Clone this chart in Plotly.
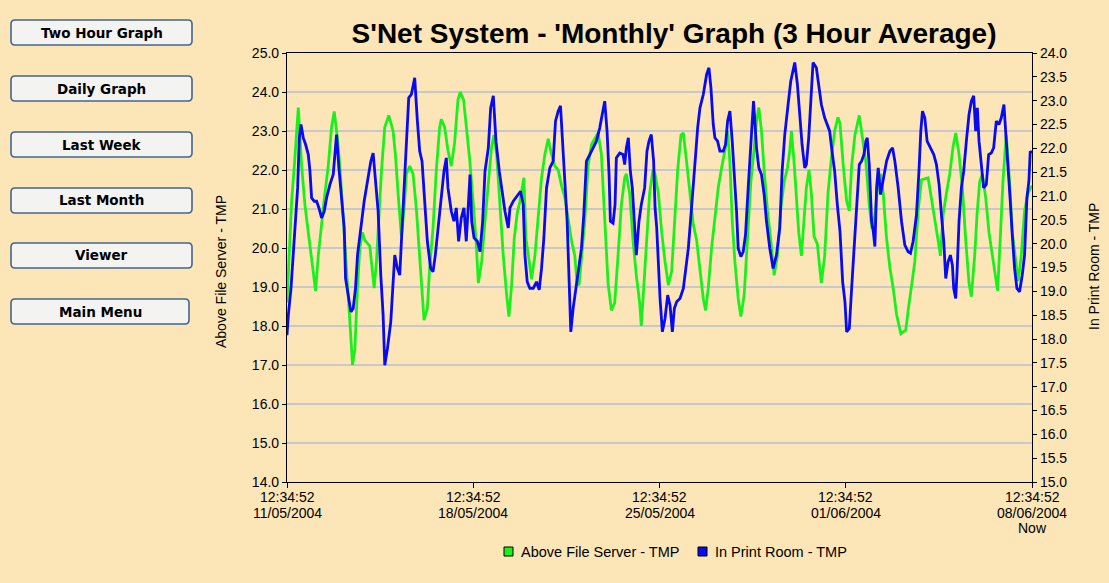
import plotly.graph_objects as go

# ---------------- data ----------------
tick_hours = [0, 168, 336, 504, 672]
tick_times = ["12:34:52"] * 5
tick_dates = ["11/05/2004", "18/05/2004", "25/05/2004", "01/06/2004", "08/06/2004"]
now_label = "Now"

green_name = "Above File Server - TMP"
blue_name = "In Print Room - TMP"

green_hours = [0, 1.8, 4.2, 6.6, 8.7, 10.2, 13.2, 16.2, 19.2, 22.2, 25.8, 28.2, 31.2, 34.2, 37.2, 40.2, 42.6,
               45.6, 47.7, 49.8, 52.2, 55.2, 57.3, 59.1, 61.2, 63.6, 65.7, 68.1, 70.2, 74.7, 76.8, 78.6, 80.7,
               82.8, 85.2, 88.2, 91.8, 95.7, 97.8, 100.2, 103.2, 105.6, 107.7, 110.7, 113.7, 116.7, 119.7,
               121.8, 123.6, 126.6, 128.7, 131.7, 134.7, 137.7, 139.2, 142.2, 145.2, 148.2, 151.2, 154.2,
               156.3, 159.3, 161.7, 164.7,
               168.1, 170.5, 172.6, 175.6, 178.6, 181.6, 184.6, 186.7, 189.1, 192.1, 195.1, 198.1, 200.2,
               202.6, 205.0, 207.7, 210.1, 213.7, 215.5, 218.5, 220.6, 223.6, 226.6, 229.6, 232.6, 235.6,
               238.6, 241.6, 244.6, 247.6, 250.6, 253.6, 256.6, 259.6, 261.7, 263.5, 265.6, 268.6, 271.6,
               274.6, 277.6, 280.6, 283.6, 286.6, 289.6, 292.6, 295.6, 298.6, 301.6, 304.6, 306.1, 309.1,
               312.1, 315.1, 318.1, 319.6, 321.7, 324.7, 327.1, 330.1,
               332.0, 335.0, 338.0, 341.0, 344.0, 347.0, 350.0, 352.4, 355.4, 357.5, 360.5, 363.5, 366.5,
               369.5, 372.5, 375.5, 377.6, 380.0, 383.0, 386.0, 389.0, 392.0, 395.0, 397.4, 399.5, 401.6,
               404.0, 407.0, 409.4, 412.4, 415.4, 418.4, 421.4, 423.5, 425.6, 428.0, 430.4, 433.4, 436.4,
               439.4, 442.4, 445.4, 448.4, 451.4, 453.5, 455.0, 457.4, 459.5, 461.6, 464.0, 466.4, 468.5,
               470.9, 473.0, 475.4, 478.4, 480.5, 482.0, 485.0, 488.0, 491.0, 494.0, 497.0,
               498.8, 501.8, 504.8, 507.2, 509.3, 512.3, 516.2, 519.2, 522.2, 525.2, 527.6, 530.3, 533.3,
               535.4, 537.8, 540.8, 543.8, 546.8, 549.8, 553.7, 558.2, 560.3, 563.3, 566.3, 569.3, 572.3,
               578.3, 581.3, 584.3, 587.3, 589.4, 591.8, 594.8, 597.8, 600.8, 603.2, 606.2, 609.2, 612.2,
               615.2, 617.3, 620.3, 622.4, 624.8, 627.2, 630.2, 633.2, 636.2, 639.2, 641.0, 643.4, 645.8,
               648.8, 651.8, 654.2, 657.2, 659.6, 662.3, 665.3, 668.3, 672]
green_temp = [18.6, 19.8, 21.2, 22.1, 23.0, 23.6, 22.1, 21.1, 20.4, 19.65, 18.9, 19.8, 20.7, 21.4, 22.1, 23.1, 23.5,
              22.8, 22.1, 21.1, 20.0, 18.8, 17.85, 17.0, 17.4, 19.0, 20.0, 20.4, 20.2, 20.05, 19.4, 18.97, 19.65,
              20.7, 21.97, 23.1, 23.4, 23.0, 22.4, 21.4, 20.3, 21.0, 21.9, 22.1, 21.9, 21.0, 19.8,
              19.0, 18.15, 18.45, 19.5, 20.5, 22.0, 23.1, 23.3, 23.1, 22.5, 22.1, 22.7, 23.8,
              24.0, 23.8, 23.1, 22.3,
              21.1, 20.2, 19.1, 19.65, 20.7, 21.7, 22.6, 22.9, 22.4, 21.1, 19.8, 18.8, 18.24,
              19.05, 20.25, 20.9, 21.2, 21.8, 20.25, 19.65, 19.2, 19.8, 20.85, 21.8, 22.4, 22.8,
              22.4, 22.1, 22.0, 21.6, 21.3, 20.7, 20.2, 19.8, 19.1, 19.05, 19.65, 20.7, 22.1,
              22.65, 22.8, 22.95, 22.4, 20.7, 19.1, 18.4, 18.6, 19.8, 21.1, 21.8, 21.9, 21.4,
              20.2, 19.3, 18.6, 18.0, 19.0, 20.25, 21.4, 22.0,
              21.9, 21.4, 20.4, 19.65, 19.05, 19.4, 20.7, 22.0, 22.9, 22.95, 22.2, 21.4, 20.6,
              20.2, 19.4, 18.7, 18.4, 18.97, 20.0, 20.85, 21.55, 22.05, 22.5, 23.0, 22.2, 20.7,
              19.65, 18.7, 18.24, 18.8, 20.2, 21.7, 22.55, 23.25, 23.6, 23.0, 22.0, 20.95, 20.2,
              19.3, 19.8, 21.0, 21.7, 22.05, 22.5, 23.0, 22.2, 21.2, 20.4, 19.8, 20.7, 21.55,
              22.0, 21.4, 20.3, 20.1, 19.5, 19.1, 19.8, 21.4, 22.3, 23.0, 23.35,
              23.2, 22.1, 21.2, 20.95, 22.1, 22.9, 23.4, 22.8, 22.2, 21.1, 20.5, 20.85, 21.7,
              21.9, 21.4, 20.25, 19.5, 18.97, 18.3, 17.8, 17.9, 18.4, 18.97, 19.65, 20.95, 21.75,
              21.8, 21.3, 20.8, 20.2, 19.8, 20.85, 21.4, 21.9, 22.6, 22.95, 22.4, 21.55, 20.2,
              19.1, 18.75, 19.8, 20.85, 21.7, 21.9, 21.3, 20.4, 19.8, 19.3, 18.9, 20.25, 21.7,
              22.9, 21.7, 20.4, 19.65, 19.15, 19.8, 20.95, 21.4, 21.6]

blue_hours = [0, 1.2, 3.6, 5.7, 7.8, 9.6, 11.1, 12.6, 14.7, 16.8, 19.2, 20.7, 22.2, 24.6, 26.7, 28.8, 31.2,
              33.6, 35.7, 38.7, 41.7, 43.2, 44.7, 46.8, 49.2, 51.6, 52.8, 55.2, 57.6, 59.7, 61.8, 63.6, 66.6,
              69.6, 72.6, 75.6, 77.7, 79.8, 82.2, 84.6, 86.7, 88.2, 90.6, 93.6, 95.7, 97.2, 99.6, 101.7,
              103.8, 105.6, 107.7, 109.8, 112.2, 115.2, 117.6, 119.7, 121.8, 124.2, 126.6, 129.6, 131.7,
              133.8, 136.2, 139.2, 141.6, 143.7, 145.2, 148.2, 150.6, 152.7, 154.8, 157.2, 159.6, 161.7,
              163.8,
              165.1, 166.6, 168.7, 171.7, 174.1, 176.5, 178.6, 181.6, 183.7, 186.1, 188.5, 191.5, 193.6,
              196.6, 199.6, 201.1, 204.1, 207.1, 210.7, 213.1, 214.6, 216.7, 219.1, 222.1, 225.1, 227.5,
              229.6, 231.7, 234.1, 237.1, 240.1, 242.2, 244.6, 246.7, 248.5, 250.6, 252.7, 254.5, 256.0,
              258.1, 260.5, 262.6, 265.6, 267.7, 270.1, 273.1, 276.1, 279.1, 282.1, 284.5, 286.6, 288.7,
              290.5, 291.7, 294.1, 295.9, 297.1, 300.1, 303.1, 304.6, 306.1, 307.9, 309.7, 311.5, 313.6,
              315.1, 317.5, 319.6, 322.6, 324.7, 326.5, 328.6, 330.7,
              332.0, 333.5, 335.0, 336.5, 338.6, 341.0, 343.4, 345.5, 347.6, 349.4, 351.5, 354.5, 357.5,
              359.6, 362.0, 364.4, 366.5, 368.6, 370.4, 372.5, 375.5, 378.5, 380.6, 382.4, 384.5, 386.0,
              388.4, 390.5, 393.5, 395.6, 397.4, 399.5, 401.6, 403.4, 405.5, 407.0, 409.4, 411.5, 413.6,
              416.0, 418.4, 419.6, 420.8, 422.0, 423.5, 425.6, 428.0, 430.4, 432.5, 435.5, 438.5, 441.5,
              444.5, 446.6, 449.0, 452.0, 454.4, 458.0, 460.4, 462.5, 464.6, 467.0, 468.5, 470.6, 472.4,
              474.5, 477.5, 479.6, 482.0, 485.0, 487.4, 489.5, 491.6, 494.0, 496.4,
              498.8, 501.2, 503.3, 504.8, 507.2, 509.3, 511.4, 513.8, 516.2, 518.3, 520.4, 522.2, 523.4,
              525.2, 527.3, 528.8, 530.3, 531.8, 533.3, 535.4, 537.8, 540.8, 543.8, 546.2, 548.3, 551.3,
              554.3, 557.3, 560.3, 562.4, 564.8, 567.8, 570.2, 571.7, 573.2, 575.3, 577.4, 580.4, 583.4,
              585.8, 588.2, 590.3, 592.4, 594.2, 596.3, 598.4, 600.2, 601.4, 603.2, 604.4, 606.2, 608.3,
              610.4, 612.8, 615.2, 617.3, 619.4, 621.2, 622.7, 624.2, 626.3, 628.4, 630.8, 632.9, 635.3,
              637.4, 639.8, 642.2, 644.3, 646.7, 648.8, 650.3, 652.4, 654.2, 656.3, 658.4, 660.8, 663.2,
              665.3, 667.4, 669.2, 670.4, 672]
blue_temp = [18.08, 18.5, 19.06, 19.76, 20.47, 21.17, 22.22, 22.5, 22.22, 22.08, 21.87, 21.52, 20.96, 20.89, 20.89, 20.75, 20.54,
             20.68, 20.96, 21.24, 21.45, 21.8, 22.29, 21.59, 21.03, 20.33, 19.27, 18.92, 18.57, 18.64, 19.06, 19.76, 20.33,
             20.89, 21.31, 21.73, 21.9, 21.31, 20.68, 19.34, 18.5, 17.45, 17.8, 18.36, 19.06, 19.76, 19.48, 19.34,
             20.33, 21.17, 22.22, 23.06, 23.13, 23.48, 22.57, 21.94, 21.73, 20.89, 20.05, 19.48, 19.41,
             19.76, 20.33, 21.03, 21.52, 21.8, 21.17, 20.68, 20.47, 20.75, 20.05, 20.54, 20.75, 20.05,
             21.03,
             21.45, 20.47, 20.12, 20.05, 19.83, 20.47, 21.52, 22.01, 22.85, 23.1, 22.15, 21.52, 21.17,
             20.68, 20.33, 20.75, 20.89, 20.99, 21.1, 20.82, 19.76, 19.2, 19.06, 19.06, 19.2, 19.03,
             19.48, 20.12, 21.17, 21.59, 21.73, 22.57, 22.78, 22.89, 22.22, 21.45, 20.47, 19.2, 18.15,
             18.64, 19.06, 19.48, 19.9, 20.61, 21.73, 21.87, 22.01, 22.15, 22.43, 22.78, 22.99, 22.36,
             21.45, 20.47, 20.43, 20.82, 21.8, 21.9, 21.87, 21.66, 22.01, 22.22, 21.52, 21.17, 20.47,
             19.76, 20.47, 20.82, 21.17, 21.94, 22.15, 22.29, 21.73,
             20.75, 20.33, 19.48, 18.85, 18.15, 18.43, 18.92, 18.71, 18.15, 18.64, 18.78, 18.85, 19.06,
             19.48, 19.9, 20.61, 21.17, 21.87, 22.43, 22.85, 23.13, 23.55, 23.69, 23.27, 22.5, 22.22,
             22.15, 21.94, 21.94, 22.08, 22.57, 22.78, 22.15, 21.52, 20.68, 19.9, 19.73, 19.83, 20.19,
             21.17, 22.22, 22.71, 22.99, 22.57, 22.01, 21.59, 21.45, 21.03, 20.47, 19.9, 19.48, 19.76,
             20.33, 21.52, 22.29, 22.92, 23.41, 23.8, 23.34, 22.71, 22.08, 21.59, 21.66, 22.22, 23.06,
             23.8, 23.69, 23.27, 22.92, 22.64, 22.5, 22.36, 21.94, 21.52, 20.82,
             20.26, 19.2, 18.78, 18.15, 18.22, 19.06, 19.9, 20.82, 21.66, 21.73, 21.87, 22.15, 22.22,
             21.66, 20.47, 20.26, 19.94, 21.17, 21.59, 21.03, 21.38, 21.73, 21.94, 22.01, 21.73, 21.17,
             20.47, 19.97, 19.83, 19.8, 20.05, 20.61, 21.59, 22.36, 22.78, 22.64, 22.15, 22.01, 21.87,
             21.66, 21.24, 20.61, 20.05, 19.27, 19.62, 19.76, 19.55, 19.06, 18.85, 19.41, 20.47, 21.17,
             21.52, 22.15, 22.71, 22.99, 23.1, 22.36, 22.85, 22.15, 21.59, 21.17, 21.24, 21.87, 21.9,
             22.01, 22.57, 22.5, 22.64, 22.92, 22.15, 21.52, 20.89, 20.19, 19.48, 19.06, 18.99, 19.34,
             19.76, 20.96, 21.31, 21.94, 21.9]

buttons = ["Two Hour Graph", "Daily Graph", "Last Week", "Last Month", "Viewer", "Main Menu"]

# ---------------- layout constants ----------------
W, H = 1109, 583
L, R, T, B = 287, 77, 53, 101
PW, PH = W - L - R, H - T - B
BG = "#FCE5B6"
FONT = "Liberation Sans, Arial, sans-serif"
BTN_FONT = "DejaVu Sans, Verdana, sans-serif"
GREEN = "#1CF01C"
BLUE = "#0A0AF0"


def px_x(px):
    return (px - L) / PW


def px_y(py):
    return (H - B - py) / PH


fig = go.Figure()
fig.add_trace(go.Scatter(x=green_hours, y=green_temp, mode="lines", name=green_name,
                         line=dict(color=GREEN, width=2.8), showlegend=False, yaxis="y"))
fig.add_trace(go.Scatter(x=blue_hours, y=blue_temp, mode="lines", name=blue_name,
                         line=dict(color=BLUE, width=2.8), showlegend=False, yaxis="y2"))

shapes = []
annotations = []

# buttons
btn_tops = [20, 76, 132, 188, 243, 299]
for i, (label, top) in enumerate(zip(buttons, btn_tops)):
    x0, x1 = 11, (192 if i < 5 else 189)
    y0, y1 = top, top + 25
    r = 4
    path = (f"M {px_x(x0 + r)} {px_y(y0)} L {px_x(x1 - r)} {px_y(y0)} "
            f"Q {px_x(x1)} {px_y(y0)} {px_x(x1)} {px_y(y0 + r)} "
            f"L {px_x(x1)} {px_y(y1 - r)} Q {px_x(x1)} {px_y(y1)} {px_x(x1 - r)} {px_y(y1)} "
            f"L {px_x(x0 + r)} {px_y(y1)} Q {px_x(x0)} {px_y(y1)} {px_x(x0)} {px_y(y1 - r)} "
            f"L {px_x(x0)} {px_y(y0 + r)} Q {px_x(x0)} {px_y(y0)} {px_x(x0 + r)} {px_y(y0)} Z")
    shapes.append(dict(type="path", xref="paper", yref="paper", path=path,
                       fillcolor="#F3F3F1", line=dict(color="#44658A", width=1.6), layer="above"))
    annotations.append(dict(xref="paper", yref="paper", x=px_x((x0 + x1) / 2), y=px_y((y0 + y1) / 2),
                            text=f"<b>{label}</b>", showarrow=False, xanchor="center", yanchor="middle",
                            font=dict(family=BTN_FONT, size=13.5, color="#000000")))

# axis titles
annotations.append(dict(xref="paper", yref="paper", x=px_x(221), y=px_y(272), text=green_name, textangle=-90,
                        showarrow=False, xanchor="center", yanchor="middle",
                        font=dict(family=FONT, size=14, color="#000000")))
annotations.append(dict(xref="paper", yref="paper", x=px_x(1094), y=px_y(267), text=blue_name, textangle=-90,
                        showarrow=False, xanchor="center", yanchor="middle",
                        font=dict(family=FONT, size=14, color="#000000")))

# x tick labels (three text rows under each tick)
for hx, tt, dd in zip(tick_hours, tick_times, tick_dates):
    annotations.append(dict(xref="x", yref="paper", x=hx, y=px_y(497), text=tt, showarrow=False,
                            xanchor="center", yanchor="middle", font=dict(family=FONT, size=14, color="#000000")))
    annotations.append(dict(xref="x", yref="paper", x=hx, y=px_y(512.5), text=dd, showarrow=False,
                            xanchor="center", yanchor="middle", font=dict(family=FONT, size=14, color="#000000")))
annotations.append(dict(xref="x", yref="paper", x=tick_hours[-1], y=px_y(528), text=now_label, showarrow=False,
                        xanchor="center", yanchor="middle", font=dict(family=FONT, size=14, color="#000000")))

# legend (drawn as swatches + labels)
legend_items = [(green_name, GREEN, 504), (blue_name, BLUE, 698)]
for nm, col, sx in legend_items:
    shapes.append(dict(type="rect", xref="paper", yref="paper",
                       x0=px_x(sx), x1=px_x(sx + 9), y0=px_y(547), y1=px_y(556),
                       fillcolor=col, line=dict(color="#000000", width=1)))
    annotations.append(dict(xref="paper", yref="paper", x=px_x(sx + 15), y=px_y(551.5), text=nm,
                            showarrow=False, xanchor="left", yanchor="middle",
                            font=dict(family=FONT, size=14.5, color="#000000")))

fig.update_layout(
    width=W, height=H,
    margin=dict(l=L, r=R, t=T, b=B),
    paper_bgcolor=BG, plot_bgcolor=BG,
    font=dict(family=FONT, size=14, color="#000000"),
    showlegend=False,
    title=dict(text="<b>S'Net System - 'Monthly' Graph (3 Hour Average)</b>",
               xref="container", yref="container", x=674 / W, y=1 - 33 / H,
               xanchor="center", yanchor="middle",
               font=dict(family=FONT, size=28, color="#000000")),
    xaxis=dict(range=[0, 672], tickvals=tick_hours, showticklabels=False, showgrid=False,
               zeroline=False, showline=True, linecolor="#000000", linewidth=1.2, mirror=True,
               ticks="outside", ticklen=5, tickcolor="#000000"),
    yaxis=dict(range=[14, 25], dtick=1, tickformat=".1f", showgrid=True, gridcolor="#C8C8C8",
               gridwidth=2, zeroline=False, showline=True, linecolor="#000000", linewidth=1.2,
               ticks="outside", ticklen=4, tickcolor="#000000", tickfont=dict(size=14)),
    yaxis2=dict(range=[15, 24], dtick=0.5, tickformat=".1f", overlaying="y", side="right",
                showgrid=False, zeroline=False, showline=True, linecolor="#000000", linewidth=1.2,
                ticks="outside", ticklen=4, tickcolor="#000000", tickfont=dict(size=14)),
    shapes=shapes,
    annotations=annotations,
)

fig.write_html("out.html", config={"displayModeBar": False},
               post_script="document.body.style.margin='0';document.body.style.overflow='hidden';")
